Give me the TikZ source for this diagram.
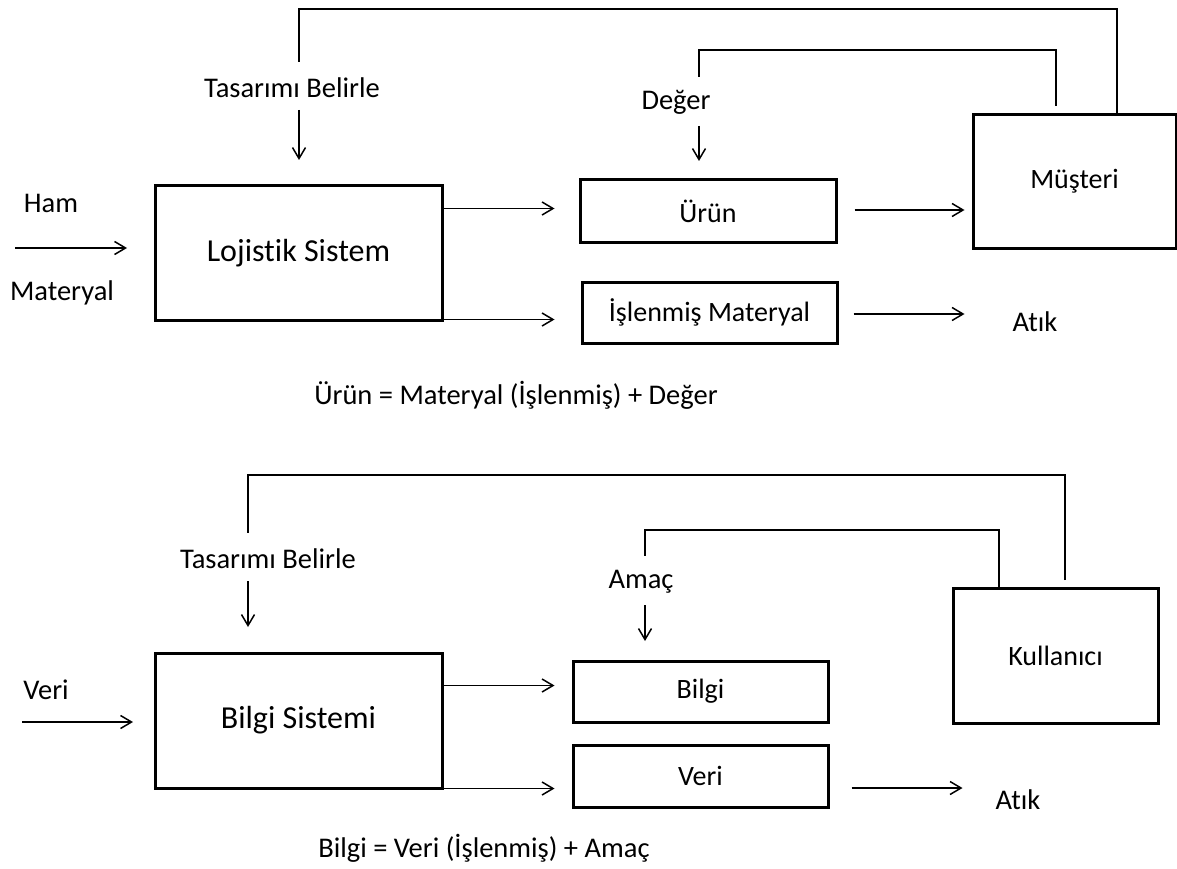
\documentclass[tikz,border=0pt]{standalone}
\usepackage{fontspec}
\setmainfont{Carlito}[Ligatures={NoCommon}]
\usetikzlibrary{arrows.meta}
\begin{document}
\begin{tikzpicture}[x=1pt,y=-1pt,
  box/.style={draw,line width=3pt,inner sep=0pt,font=\fontsize{28}{34}\selectfont},
  bigbox/.style={box,font=\fontsize{32}{38}\selectfont},
  lbl/.style={inner sep=0pt,font=\fontsize{28.5}{34}\selectfont},
  wire/.style={line width=1.5pt},
  arr/.style={wire,-{Straight Barb[length=11pt,width=13pt,line width=1.5pt]}}]
\useasboundingbox (0,0) rectangle (1177,869);

% ---------- logistics system ----------
\node[bigbox,minimum width=287,minimum height=134] (lojistik) at (298.5,253) {Lojistik Sistem};
\node[box,minimum width=256,minimum height=62] (urun) at (708,211) {Ürün};
\node[box,minimum width=255,minimum height=61] (islenmis) at (709.5,312.5) {İşlenmiş Materyal};
\node[box,minimum width=203,minimum height=133] (musteri) at (1074.5,181.5) {Müşteri};

\node[lbl] (ham) at (51,203) {Ham};
\node[lbl] (materyal) at (62,293) {Materyal};
\node[lbl] (tas1) at (292,88) {Tasarımı Belirle};
\node[lbl] (deger) at (676,102) {Değer};
\node[lbl] (atik1) at (1035,322) {Atık};
\node[lbl] (eq1) at (516,395) {Ürün = Materyal (İşlenmiş) + Değer};

\coordinate (in1) at (15,248);
\coordinate (in1e) at (127,248);
\draw[arr] (in1) -- (in1e);

% design feedback from the customer
\draw[wire] ([xshift=-2]musteri.north -| 1119,0) -- (1117,9) -- (299,9) -- (299,62);
\draw[arr] (299,110) -- (299,160);
% value feedback
\draw[wire] (1056,106) -- (1056,50) -- (699,50) -- (699,77);
\draw[arr] (699,126) -- (699,161);

\draw[arr] ([yshift=-24]lojistik.north east) -- +(111,0);
\draw[arr] ([yshift=2]lojistik.south east) -- +(111,0);
\draw[arr] ([xshift=17,yshift=1]urun.east) -- +(110,0);
\draw[arr] ([xshift=15,yshift=-1.5]islenmis.east) -- +(111,0);

% ---------- information system ----------
\node[bigbox,minimum width=287,minimum height=135] (bilgisis) at (298.5,720.5) {Bilgi Sistemi};
\node[box,minimum width=255,minimum height=61] (bilgi) at (700.5,691.5) {Bilgi};
\node[box,minimum width=255,minimum height=62] (veri) at (700.5,776) {Veri};
\node[box,minimum width=205,minimum height=135] (kullanici) at (1055.5,655.5) {Kullanıcı};

\node[lbl] (verilbl) at (46,690) {Veri};
\node[lbl] (tas2) at (268,559) {Tasarımı Belirle};
\node[lbl] (amac) at (641,582) {Amaç};
\node[lbl] (atik2) at (1018,800) {Atık};
\node[lbl] (eq2) at (484,848) {Bilgi = Veri (İşlenmiş) + Amaç};

\coordinate (in2) at (22,722);
\coordinate (in2e) at (133,722);
\draw[arr] (in2) -- (in2e);

% design feedback from the user
\draw[wire] (1065,580) -- (1065,475) -- (248,475) -- (248,533);
\draw[arr] (248,581) -- (248,627);
% purpose feedback
\draw[wire] (kullanici.north -| 999,0) -- (999,530) -- (645,530) -- (645,556);
\draw[arr] (645,605) -- (645,641);

\draw[arr] ([yshift=-34]bilgisis.north east) -- +(111,0);
\draw[arr] ([yshift=1]bilgisis.south east) -- +(111,0);
\draw[arr] ([xshift=22,yshift=-12]veri.east) -- +(111,0);
\end{tikzpicture}
\end{document}
